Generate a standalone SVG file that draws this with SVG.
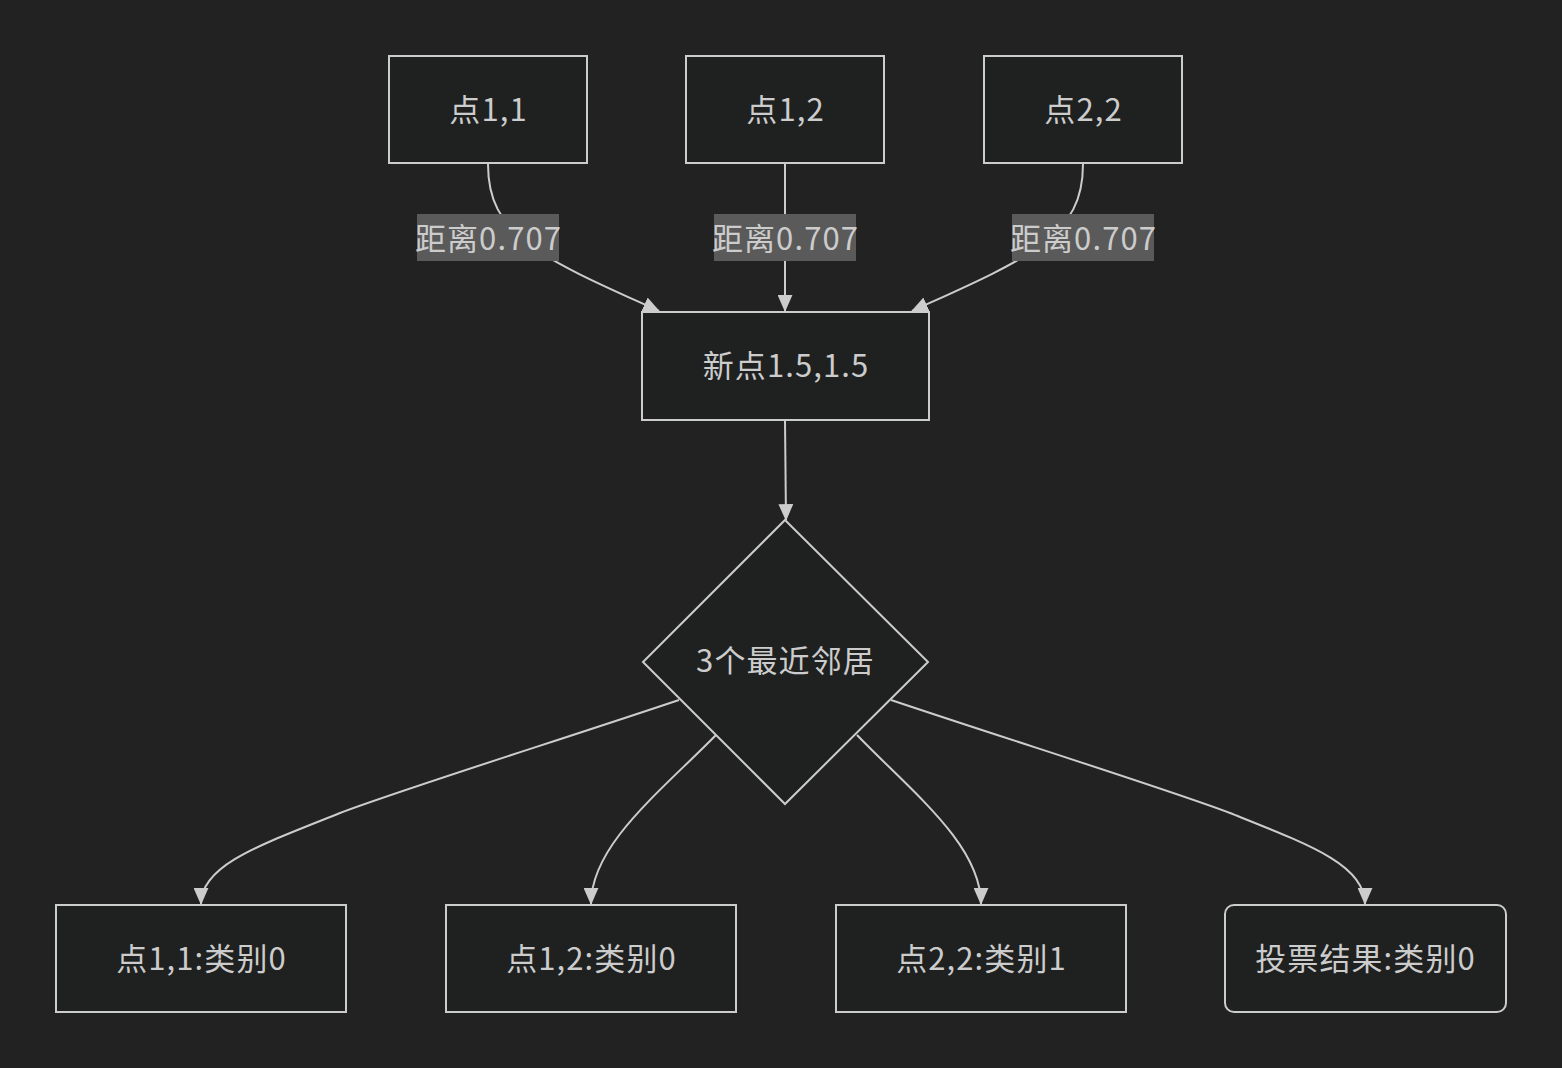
<svg xmlns="http://www.w3.org/2000/svg" width="1562" height="1068" viewBox="0 0 1562 1068">
<style>
.bg{fill:#222222}
.node{fill:#1f2020;stroke:#cccccc;stroke-width:2}
.t{font-family:"Noto Sans CJK SC","Noto Sans",sans-serif;font-size:31px;letter-spacing:1.1px;fill:#cccccc;text-anchor:middle;dominant-baseline:central}
.edge{fill:none;stroke:#cccccc;stroke-width:2}
.lbg{fill:#5a5a5a}
</style>
<defs>
<marker id="ah" viewBox="0 0 16 14" refX="15" refY="7" markerWidth="17" markerHeight="15" markerUnits="userSpaceOnUse" orient="auto">
<path d="M0,0 L16,7 L0,14 z" fill="#cccccc"/>
</marker>
</defs>
<rect class="bg" x="0" y="0" width="1562" height="1068"/>
<g id="edges">
<path class="edge" d="M488,164 C488,200 500,222 530,245 S620,293 659,311" marker-end="url(#ah)"/>
<path class="edge" d="M785,164 L785,311" marker-end="url(#ah)"/>
<path class="edge" d="M1083,164 C1083,200 1071,222 1041,245 S951,293 912,311" marker-end="url(#ah)"/>
<path class="edge" d="M785,420 L786,520" marker-end="url(#ah)"/>
<path class="edge" d="M679,700 C560,740 400,790 340,813 C260,845 201,865 201,904" marker-end="url(#ah)"/>
<path class="edge" d="M716,735 C660,792 591,845 591,904" marker-end="url(#ah)"/>
<path class="edge" d="M857,735 C912,792 981,845 981,904" marker-end="url(#ah)"/>
<path class="edge" d="M891,700 C1010,740 1170,790 1230,813 C1310,845 1365,865 1365,904" marker-end="url(#ah)"/>
<g id="labels">
<rect class="lbg" x="417" y="214" width="142" height="47"/>
<text class="t" x="488.5" y="236">距离0.707</text>
<rect class="lbg" x="714" y="214" width="142" height="47"/>
<text class="t" x="785.5" y="236">距离0.707</text>
<rect class="lbg" x="1012" y="214" width="142" height="47"/>
<text class="t" x="1083.5" y="236">距离0.707</text>
</g>
</g>
<g id="p11"><rect class="node" x="389" y="56" width="198" height="107"/><text class="t" x="488.5" y="107">点1,1</text></g>
<g id="p12"><rect class="node" x="686" y="56" width="198" height="107"/><text class="t" x="785.5" y="107">点1,2</text></g>
<g id="p22"><rect class="node" x="984" y="56" width="198" height="107"/><text class="t" x="1083.5" y="107">点2,2</text></g>
<g id="newp"><rect class="node" x="642" y="312" width="287" height="108"/><text class="t" x="786" y="363">新点1.5,1.5</text></g>
<g id="knn"><polygon class="node" points="785,520 928,662 785,804 643,662"/><text class="t" x="785.5" y="658">3个最近邻居</text></g>
<g id="c11"><rect class="node" x="56" y="905" width="290" height="107"/><text class="t" x="201.5" y="956">点1,1:类别0</text></g>
<g id="c12"><rect class="node" x="446" y="905" width="290" height="107"/><text class="t" x="591.5" y="956">点1,2:类别0</text></g>
<g id="c22"><rect class="node" x="836" y="905" width="290" height="107"/><text class="t" x="981.5" y="956">点2,2:类别1</text></g>
<g id="vote"><rect class="node" x="1225" y="905" width="281" height="107" rx="9" ry="9"/><text class="t" x="1365.5" y="956">投票结果:类别0</text></g>
</svg>
